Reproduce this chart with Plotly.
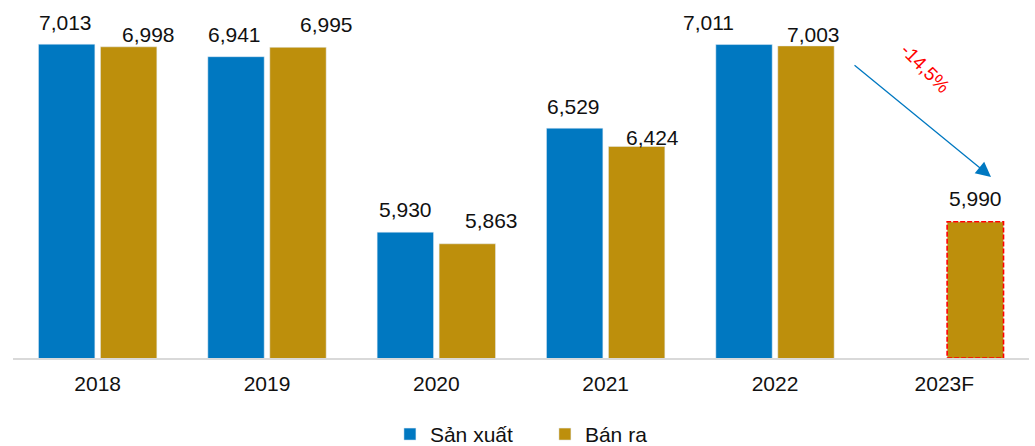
import plotly.graph_objects as go

# ---- data ----
years = ["2018", "2019", "2020", "2021", "2022", "2023F"]
san_xuat = [7013, 6941, 5930, 6529, 7011, None]
ban_ra = [6998, 6995, 5863, 6424, 7003, 5990]
change_label = "-14,5%"

# ---- label nudges (px): (dx, dy above bar top to label centre) ----
sx_label_shift = [(-1, 22), (-2, 22), (0, 23), (-1, 22), (-36, 22), (0, 0)]
br_label_shift = [(20, 12.5), (29, 23), (24, 23), (16, 9), (8, 11), (0, 23)]

BLUE = "#0078C1"
GOLD = "#BD8F0C"
FONT = "Liberation Sans, Arial, sans-serif"

BAR_W = 0.333
GAP = 0.033
BLUE_OFF = -(BAR_W + GAP / 2)
GOLD_OFF = GAP / 2
Y_MIN, Y_MAX = 5205, 7210

fig = go.Figure()
fig.add_trace(go.Bar(x=years, y=san_xuat, name="Sản xuất", marker_color=BLUE,
                     width=BAR_W, offset=BLUE_OFF, hoverinfo="skip"))
fig.add_trace(go.Bar(x=years, y=ban_ra, name="Bán ra", marker_color=GOLD,
                     width=BAR_W, offset=GOLD_OFF, hoverinfo="skip"))

annotations = []
for i, (v, (dx, dy)) in enumerate(zip(san_xuat, sx_label_shift)):
    if v is None:
        continue
    annotations.append(dict(x=i + BLUE_OFF + BAR_W / 2, y=v, xref="x", yref="y",
                            text=f"{v:,}", showarrow=False, xshift=dx, yshift=dy,
                            yanchor="middle", font=dict(size=21, color="#111", family=FONT)))
for i, (v, (dx, dy)) in enumerate(zip(ban_ra, br_label_shift)):
    if v is None:
        continue
    annotations.append(dict(x=i + GOLD_OFF + BAR_W / 2, y=v, xref="x", yref="y",
                            text=f"{v:,}", showarrow=False, xshift=dx, yshift=dy,
                            yanchor="middle", font=dict(size=21, color="#111", family=FONT)))

# trend arrow and percentage
annotations.append(dict(x=0.9626, y=0.520, xref="x domain", yref="y domain",
                        ax=0.8268, ay=0.845, axref="x domain", ayref="y domain",
                        text="", showarrow=True, arrowhead=2, arrowsize=2.3,
                        arrowwidth=1.3, arrowcolor=BLUE, standoff=0, startstandoff=0))
annotations.append(dict(x=0.9291, y=0.922, xref="x domain", yref="y domain",
                        text=change_label, showarrow=False, textangle=45,
                        font=dict(size=19, color="#FF0000", family=FONT)))

# dashed outline on the forecast bar
last = len(years) - 1
fig.add_shape(type="rect", xref="x", yref="y",
              x0=last + GOLD_OFF, x1=last + GOLD_OFF + BAR_W,
              y0=Y_MIN, y1=ban_ra[last],
              line=dict(color="#FF0000", width=1.6, dash="5px,2px"), layer="above")

fig.update_layout(
    width=1035, height=446,
    margin=dict(l=13, r=6, t=10, b=88),
    paper_bgcolor="white", plot_bgcolor="white",
    barmode="overlay",
    font=dict(family=FONT, size=21, color="#111"),
    annotations=annotations,
    showlegend=True,
    legend=dict(orientation="h", yref="container", y=0.026, yanchor="middle",
                x=0.371, xanchor="left", entrywidth=110,
                font=dict(size=21, color="#111", family=FONT),
                bgcolor="rgba(0,0,0,0)"),
)
fig.update_xaxes(type="category", showline=True, linecolor="#D9D9D9", linewidth=1.5,
                 showgrid=False, ticks="", ticklabelstandoff=6,
                 tickfont=dict(size=21, color="#111", family=FONT), fixedrange=True)
fig.update_yaxes(range=[Y_MIN, Y_MAX], visible=False, showgrid=False, fixedrange=True)

fig.write_html("out.html")
